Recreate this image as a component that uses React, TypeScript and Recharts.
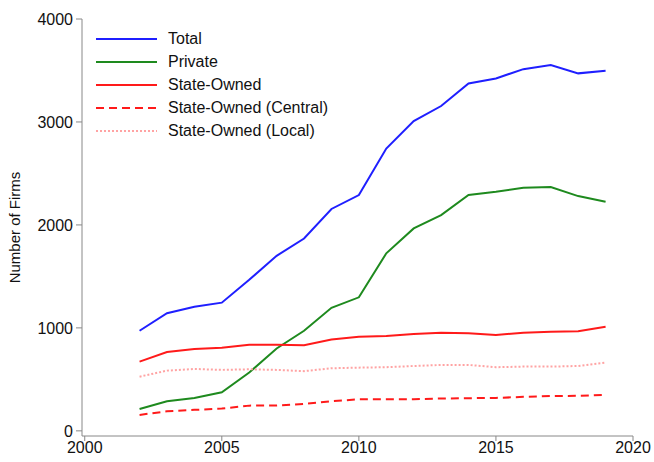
import React from 'react';
import { LineChart, Line, XAxis, YAxis } from 'recharts';

const years = [2002, 2003, 2004, 2005, 2006, 2007, 2008, 2009, 2010, 2011, 2012, 2013, 2014, 2015, 2016, 2017, 2018, 2019];
const total = [972, 1142, 1205, 1245, 1467, 1700, 1868, 2155, 2290, 2742, 3008, 3155, 3373, 3423, 3513, 3552, 3472, 3498];
const privateFirms = [212, 288, 320, 375, 566, 800, 972, 1195, 1297, 1724, 1966, 2095, 2290, 2322, 2360, 2368, 2280, 2225];
const stateOwned = [672, 766, 796, 808, 836, 836, 832, 888, 914, 922, 940, 953, 947, 932, 953, 962, 968, 1012];
const central = [155, 190, 204, 216, 245, 246, 262, 288, 306, 307, 308, 314, 317, 320, 330, 338, 340, 350];
const local = [526, 585, 601, 592, 598, 592, 580, 608, 614, 618, 630, 640, 640, 618, 624, 624, 630, 662];

const xTicks = [2000, 2005, 2010, 2015, 2020];
const yTicks = [0, 1000, 2000, 3000, 4000];

const series = [
  { key: 'total', name: 'Total', color: '#1f1fff', dash: undefined },
  { key: 'private', name: 'Private', color: '#1e8a1e', dash: undefined },
  { key: 'state', name: 'State-Owned', color: '#ff1a1a', dash: undefined },
  { key: 'central', name: 'State-Owned (Central)', color: '#ff1a1a', dash: '8 5' },
  { key: 'local', name: 'State-Owned (Local)', color: '#ffa3a3', dash: '2 2' },
];

const data = years.map((year, i) => ({
  year,
  total: total[i],
  private: privateFirms[i],
  state: stateOwned[i],
  central: central[i],
  local: local[i],
}));

const FONT = '"Liberation Sans", Arial, sans-serif';

function LegendBox() {
  return (
    <div style={{ position: 'absolute', left: 95, top: 27, fontFamily: FONT, fontSize: 16, color: '#111' }}>
      {series.map((s) => (
        <div key={s.key} style={{ display: 'flex', alignItems: 'center', height: 23 }}>
          <svg width={63} height={6} style={{ marginRight: 10 }}>
            <line x1={1} y1={3} x2={62} y2={3} stroke={s.color} strokeWidth={2} strokeDasharray={s.dash} />
          </svg>
          <span>{s.name}</span>
        </div>
      ))}
    </div>
  );
}

export default function App() {
  return (
    <div style={{ position: 'absolute', left: 0, top: 0, width: 654, height: 462, background: '#fff' }}>
      <LineChart width={654} height={462} data={data} margin={{ top: 19, right: 21, left: 22, bottom: 0 }}>
        <XAxis
          dataKey="year"
          type="number"
          domain={[1999.9, 2020]}
          ticks={xTicks}
          height={26}
          stroke="#888"
          tickSize={5}
          tick={{ fill: '#111', fontSize: 16, fontFamily: FONT }}
          tickMargin={1}
        />
        <YAxis
          type="number"
          domain={[-50, 4000]}
          ticks={yTicks}
          width={60}
          stroke="#888"
          tickSize={6}
          tickMargin={3}
          tick={{ fill: '#111', fontSize: 16, fontFamily: FONT }}
          label={{
            value: 'Number of Firms',
            angle: -90,
            position: 'insideLeft',
            offset: -7,
            style: { textAnchor: 'middle', fill: '#111', fontSize: 15, fontFamily: FONT },
          }}
        />
        {series.map((s) => (
          <Line
            key={s.key}
            dataKey={s.key}
            name={s.name}
            type="linear"
            stroke={s.color}
            strokeWidth={2}
            strokeDasharray={s.dash}
            dot={false}
            isAnimationActive={false}
          />
        ))}
      </LineChart>
      <LegendBox />
    </div>
  );
}
